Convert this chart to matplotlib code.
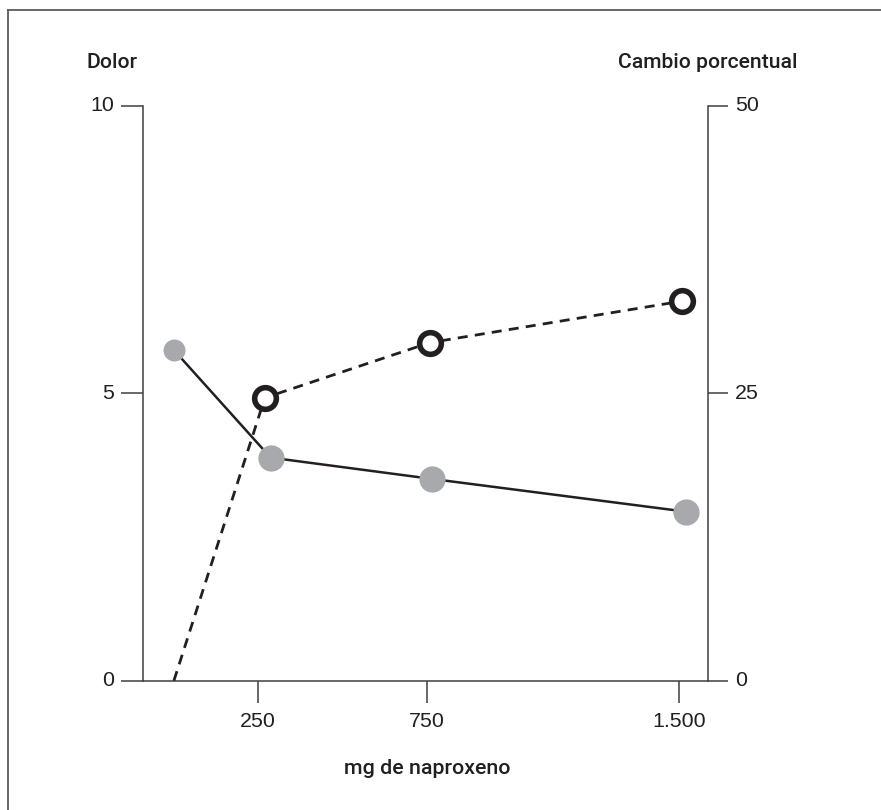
import matplotlib
matplotlib.use("Agg")
import matplotlib.pyplot as plt
from matplotlib.lines import Line2D

# ---- data ----
dose_ticks = [250, 750, 1500]
dose_tick_labels = ["250", "750", "1.500"]
pain_x = [0, 287, 765, 1520]
pain_values = [5.75, 3.88, 3.51, 2.94]
change_x = [0, 270, 760, 1507]
change_values = [0, 24.6, 29.4, 33.0]
left_ticks = [0, 5, 10]
right_ticks = [0, 25, 50]

plt.rcParams['font.family'] = ['Liberation Sans', 'DejaVu Sans']

W, H = 881, 810
fig = plt.figure(figsize=(W / 100, H / 100), dpi=100)
ax = fig.add_axes([143.3 / W, 1 - 680.7 / H, (707.5 - 143.3) / W, (680.7 - 105.7) / H])
ax2 = ax.twinx()

spine_col = "#3f3f3f"
line_col = "#231f20"
gray = "#a7a9ac"

ax.set_xlim(-90.8, 1583.9)
ax.set_ylim(0, 10)
ax2.set_ylim(0, 50)

# lines
ax.plot(pain_x, pain_values, color=line_col, lw=1.8, zorder=2, solid_capstyle="butt")
ax2.plot(change_x, change_values, color=line_col, lw=2.0, dashes=(3.6, 2.6), zorder=2)

# markers
pain_sizes = [15.8, 18.9, 18.9, 18.9]
for x, y, s in zip(pain_x, pain_values, pain_sizes):
    ax.plot([x], [y], marker="o", ms=s, mfc=gray, mec="none", ls="none", zorder=3)
ax2.plot(change_x[1:], change_values[1:], marker="o", ms=15.6, mfc="white",
         mec=line_col, mew=4.0, ls="none", zorder=4)

# spines
for a in (ax, ax2):
    a.spines["top"].set_visible(False)
    for s in a.spines.values():
        s.set_color(spine_col)
        s.set_linewidth(1.1)
    a.patch.set_visible(False)
ax2.spines["left"].set_visible(False)
ax2.spines["bottom"].set_visible(False)
ax.spines["right"].set_visible(False)

ax.set_xticks(dose_ticks)
ax.set_xticklabels(dose_tick_labels)
ax.set_yticks(left_ticks)
ax.set_yticklabels([str(v) for v in left_ticks])
ax2.set_yticks(right_ticks)
ax2.set_yticklabels([str(v) for v in right_ticks])

ax.tick_params(axis="x", direction="out", length=15.8, width=1.1, color=spine_col,
               pad=7, labelsize=15.4, labelcolor=line_col)
ax.tick_params(axis="y", direction="out", length=15.8, width=1.1, color=spine_col,
               pad=5, labelsize=15.4, labelcolor=line_col)
ax2.tick_params(axis="y", direction="out", length=14.6, width=1.1, color=spine_col,
                pad=5, labelsize=15.4, labelcolor=line_col)

for lab in ax.get_yticklabels() + ax2.get_yticklabels():
    lab.set_verticalalignment("center")

# titles
title_font = ['Roboto', 'Liberation Sans', 'DejaVu Sans']
fig.text(87 / W, 1 - 62 / H, "Dolor", ha="left", va="center", fontsize=15.2,
         fontweight="medium", family=title_font, color=line_col)
fig.text(797 / W, 1 - 62 / H, "Cambio porcentual", ha="right", va="center", fontsize=15.2,
         fontweight="medium", family=title_font, color=line_col)
fig.text(427 / W, 1 - 768 / H, "mg de naproxeno", ha="center", va="center", fontsize=15.4,
         fontweight="medium", family=title_font, color=line_col)

# frame
fig.add_artist(Line2D([8 / W, 1.0], [1 - 10 / H, 1 - 10 / H], transform=fig.transFigure,
                      color="#5a5a5a", lw=1.3))
fig.add_artist(Line2D([8 / W, 8 / W], [0.0, 1 - 10 / H], transform=fig.transFigure,
                      color="#5a5a5a", lw=1.3))

fig.savefig("out.png", dpi=100, facecolor="white")
